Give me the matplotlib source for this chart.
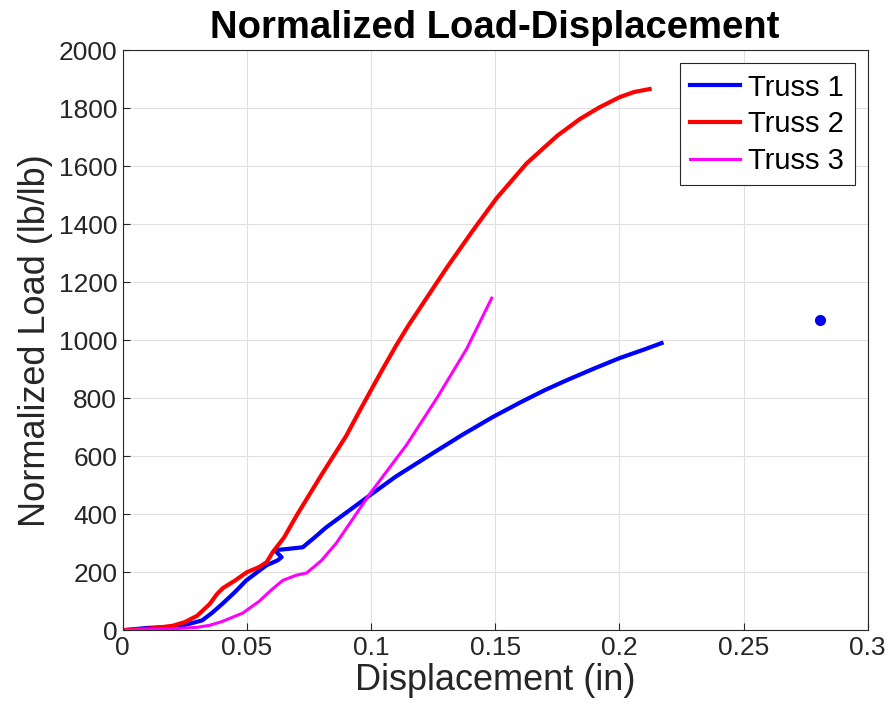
import numpy as np
import matplotlib.pyplot as plt

plt.rcParams['font.family'] = ['Liberation Sans', 'DejaVu Sans']

# Truss 1 (blue)
t1_x = [0, 0.01, 0.02, 0.025, 0.032, 0.036, 0.04, 0.045, 0.0498, 0.0579, 0.0624,
        0.0640, 0.0628, 0.0612, 0.066, 0.0725, 0.077, 0.082, 0.0914, 0.0995,
        0.11, 0.1248, 0.137, 0.149, 0.16, 0.17, 0.1788, 0.19, 0.2, 0.21, 0.217]
t1_y = [0, 8, 12, 18, 34, 60, 90, 130, 172, 224, 241,
        252, 262, 276, 280, 286, 318, 355, 414, 465,
        530, 610, 675, 735, 785, 828, 862, 903, 938, 968, 990]

# Truss 2 (red)
t2_x = [0, 0.01, 0.02, 0.025, 0.03, 0.035, 0.038, 0.0403, 0.045, 0.05, 0.055, 0.058,
        0.0604, 0.065, 0.07, 0.08, 0.09, 0.095, 0.1, 0.105, 0.11, 0.115, 0.1208,
        0.1305, 0.141, 0.1506, 0.1627, 0.175, 0.184, 0.192, 0.2001, 0.206, 0.2122]
t2_y = [0, 5, 15, 28, 50, 90, 125, 145, 170, 200, 218, 235,
        269, 320, 395, 535, 670, 750, 828, 905, 980, 1050, 1125,
        1250, 1378, 1490, 1610, 1705, 1762, 1803, 1838, 1856, 1866]

# Truss 3 (magenta)
t3_x = [0, 0.01, 0.02, 0.03, 0.035, 0.04, 0.0483, 0.055, 0.06, 0.0645, 0.07, 0.074,
        0.08, 0.086, 0.0995, 0.1144, 0.1265, 0.1385, 0.1486]
t3_y = [0, 2, 5, 10, 17, 30, 59, 100, 140, 172, 190, 197,
        240, 300, 470, 640, 800, 970, 1145]

# single outlier point
pt_x = [0.2807]
pt_y = [1069]

fig = plt.figure(figsize=(8.89, 7.17), dpi=100)
ax = fig.add_axes([0.138, 0.121, 0.838, 0.809])

ax.plot(t1_x, t1_y, color='#0000ff', lw=3.0, label='Truss 1')
ax.plot(t2_x, t2_y, color='#ff0000', lw=3.0, label='Truss 2')
ax.plot(t3_x, t3_y, color='#ff00ff', lw=2.2, label='Truss 3')
ax.plot(pt_x, pt_y, 'o', color='#0000ff', ms=7)

ax.set_xlim(0, 0.3)
ax.set_ylim(0, 2000)
ax.set_xticks([0, 0.05, 0.1, 0.15, 0.2, 0.25, 0.3])
ax.set_xticklabels(['0', '0.05', '0.1', '0.15', '0.2', '0.25', '0.3'])
ax.set_yticks(np.arange(0, 2001, 200))
ax.grid(True, color='#e0e0e0', lw=0.8)
ax.set_axisbelow(True)
ax.tick_params(direction='in', labelsize=19, colors='#262626', length=5, pad=4)
for s in ax.spines.values():
    s.set_color('#262626')
    s.set_linewidth(0.8)

ax.set_xlabel('Displacement (in)', fontsize=26, color='#262626', labelpad=2)
ax.set_ylabel('Normalized Load (lb/lb)', fontsize=26, color='#262626', labelpad=4)
ax.set_title('Normalized Load-Displacement', fontsize=27.5, fontweight='bold', pad=9)

leg = ax.legend(loc='upper right', fontsize=21, fancybox=False, framealpha=1,
                edgecolor='#262626', handlelength=1.7, borderpad=0.35,
                labelspacing=0.3, handletextpad=0.3, borderaxespad=0.45)
leg.get_frame().set_linewidth(0.8)

fig.savefig('out.png', dpi=100)
